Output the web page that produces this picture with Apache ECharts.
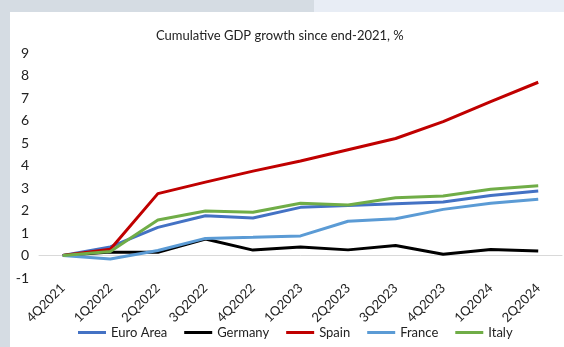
<!DOCTYPE html>
<html>
<head>
<meta charset="utf-8">
<script src="https://cdn.jsdelivr.net/npm/echarts@6/dist/echarts.min.js"></script>
<style>
    html, body {
        margin: 0;
        padding: 0;
        width: 564px;
        height: 347px;
        overflow: hidden;
        background: #d5dce3;
    }
    .top-light {
        position: absolute;
        left: 314px;
        top: 0;
        width: 250px;
        height: 12px;
        background: #e8edf5;
    }
    .panel {
        position: absolute;
        left: 10px;
        top: 12px;
        width: 554px;
        height: 335px;
        background: #fff;
    }
    #gdp-chart {
        position: absolute;
        left: 0;
        top: 0;
        width: 564px;
        height: 347px;
    }
</style>
</head>
<body>
<div class="top-light"></div>
<div class="panel"></div>
<div id="gdp-chart"></div>
<script>
    var quarters = ["4Q2021", "1Q2022", "2Q2022", "3Q2022", "4Q2022", "1Q2023", "2Q2023", "3Q2023", "4Q2023", "1Q2024", "2Q2024"];
    var euroArea = [0, 0.38, 1.25, 1.77, 1.67, 2.14, 2.22, 2.3, 2.38, 2.67, 2.87];
    var germany = [0, 0.15, 0.14, 0.73, 0.24, 0.38, 0.25, 0.44, 0.06, 0.27, 0.2];
    var spain = [0, 0.28, 2.75, 3.26, 3.75, 4.2, 4.7, 5.2, 5.95, 6.84, 7.7];
    var france = [0, -0.16, 0.22, 0.76, 0.81, 0.87, 1.52, 1.63, 2.05, 2.32, 2.5];
    var italy = [0, 0.18, 1.58, 1.98, 1.92, 2.32, 2.24, 2.57, 2.64, 2.94, 3.1];

    var seriesDefs = [
        { name: "Euro Area", data: euroArea, color: "#4472c4" },
        { name: "Germany", data: germany, color: "#000000" },
        { name: "Spain", data: spain, color: "#c00000" },
        { name: "France", data: france, color: "#5b9bd5" },
        { name: "Italy", data: italy, color: "#70ad47" },
    ];

    var fontFamily = "Lato, 'Noto Sans', sans-serif";
    var myChart = echarts.init(document.getElementById("gdp-chart"), null, { renderer: "canvas" });

    var option = {
        backgroundColor: "rgba(255, 255, 255, 0)",
        animation: false,
        textStyle: { fontFamily: fontFamily },
        title: {
            text: "Cumulative GDP growth since end-2021, %",
            left: 151,
            top: 24,
            textStyle: {
                fontFamily: fontFamily,
                fontSize: 13,
                fontWeight: "normal",
                color: "#222",
            },
        },
        legend: {
            left: 73,
            top: 321,
            icon: "rect",
            itemWidth: 28,
            itemHeight: 3,
            itemGap: 17,
            textStyle: {
                fontFamily: fontFamily,
                fontSize: 13,
                color: "#222",
            },
            data: seriesDefs.map((s) => s.name),
        },
        grid: {
            left: 39,
            right: 2,
            top: 53,
            bottom: 69,
            containLabel: false,
        },
        xAxis: {
            type: "category",
            data: quarters,
            boundaryGap: true,
            axisLine: {
                onZero: true,
                lineStyle: { color: "#d9d9d9", width: 1 },
            },
            axisTick: { show: false },
            axisLabel: {
                rotate: 45,
                margin: 8,
                fontFamily: fontFamily,
                fontSize: 13,
                color: "#222",
            },
        },
        yAxis: {
            type: "value",
            min: -1,
            max: 9,
            interval: 1,
            splitLine: { show: false },
            axisLine: { show: false },
            axisTick: { show: false },
            axisLabel: {
                margin: 10,
                fontFamily: fontFamily,
                fontSize: 14,
                color: "#222",
            },
        },
        series: seriesDefs.map((s) => ({
            name: s.name,
            type: "line",
            data: s.data,
            symbol: "none",
            color: s.color,
            lineStyle: { width: 3, color: s.color },
        })),
    };
    myChart.setOption(option);
</script>
</body>
</html>
